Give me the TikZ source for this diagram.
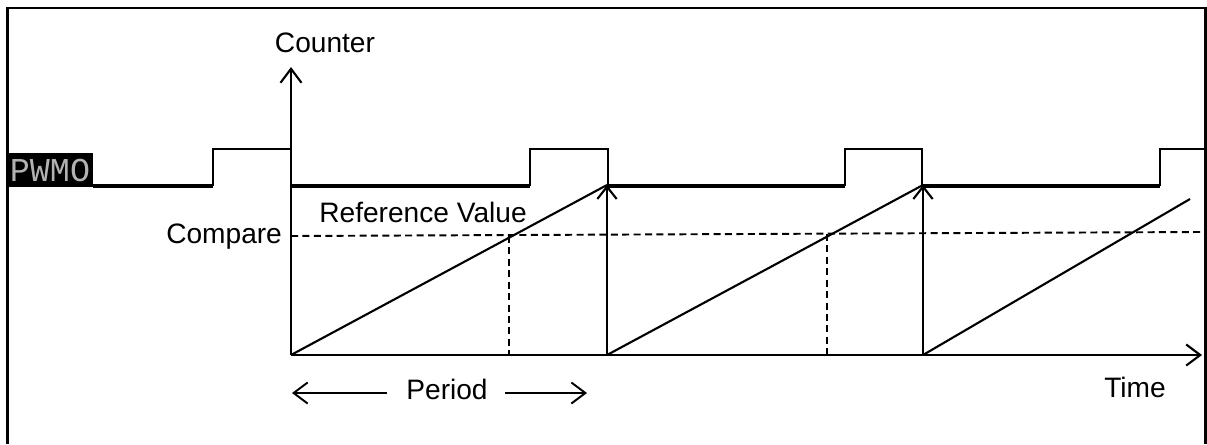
\documentclass[tikz,border=0pt]{standalone}
\usepackage{fontspec}
\setmainfont{Liberation Sans}
\newfontfamily\lcdfont{Liberation Mono}
\usetikzlibrary{arrows.meta,positioning}

\begin{document}
\begin{tikzpicture}[
  x=0.02cm, y=-0.02cm,
  frame/.style={line width=1.6pt},
  axis/.style={line width=1.2pt, -{Straight Barb[length=8pt,width=12pt]}},
  ramp/.style={line width=1.2pt},
  reset/.style={line width=1.2pt, -{Straight Barb[length=7pt,width=11pt]}},
  pwmlow/.style={line width=2.3pt},
  pwmhigh/.style={line width=1.4pt},
  guide/.style={line width=1.1pt, dash pattern=on 4pt off 2.5pt},
  lbl/.style={font=\fontsize{16}{19}\selectfont, inner sep=1pt},
  period/.style={line width=1.1pt, -{Straight Barb[length=8pt,width=12pt]}}
]
  \useasboundingbox (0,0) rectangle (1207,444);

  % frame (open at the bottom)
  \draw[frame] (7.5,444) -- (7.5,8) -- (1205.5,8) -- (1205.5,444);

  % axes
  \coordinate (o) at (291,355);
  \coordinate (ytop) at (291,67);
  \coordinate (xend) at (1202,355);
  \draw[axis] (o) -- (ytop);
  \draw[axis] (o) -- (xend);
  \node[lbl] (counter) at (325,43) {Counter};
  \node[lbl] (time) at (1135,387) {Time};

  % PWM output
  \node[fill=black, text=black!30, inner sep=0pt, text width=1.72cm, align=center,
        minimum height=0.68cm, font=\lcdfont\fontsize{19}{19}\selectfont] (pwm) at (50,170) {PWMO};
  \draw[pwmlow] (pwm.east |- 0,186) -- (213,186);
  \foreach \r/\f in {291/530, 608/845, 922/1160}
    \draw[pwmlow] (\r,186) -- (\f,186);
  \foreach \r/\f in {213/291, 530/608, 845/922}
    \draw[pwmhigh] (\r,186) -- (\r,149) -- (\f,149) -- (\f,186);
  \draw[pwmhigh] (1160,186) -- (1160,149) -- (1205,149);

  % counter ramps and resets
  \coordinate (p1) at (607,185);
  \coordinate (p2) at (923,185);
  \coordinate (b1) at (607,355);
  \coordinate (b2) at (923,355);
  \coordinate (e3) at (1190,199);
  \draw[ramp] (o) -- (p1);
  \draw[ramp] (b1) -- (p2);
  \draw[ramp] (b2) -- (e3);
  \draw[reset] (b1) -- (p1);
  \draw[reset] (b2) -- (p2);

  % compare level
  \coordinate (cmp) at (291,236);
  \coordinate (cmpend) at (1200,232);
  \draw[guide] (cmp) -- (cmpend);
  \node[lbl, anchor=east] (compare) at (284,237) {Compare};
  \node[lbl] (refval) at (423,212) {Reference Value};
  \coordinate (c1) at (509,236);
  \coordinate (c2) at (827,234);
  \draw[guide] (c1) -- (c1 |- o);
  \draw[guide] (c2) -- (c2 |- o);

  % period
  \node[lbl] (per) at (447,389) {Period};
  \coordinate (pl) at (292,393);
  \coordinate (pr) at (587,393);
  \draw[period] (387,393) -- (pl);
  \draw[period] (505,393) -- (pr);
\end{tikzpicture}
\end{document}
